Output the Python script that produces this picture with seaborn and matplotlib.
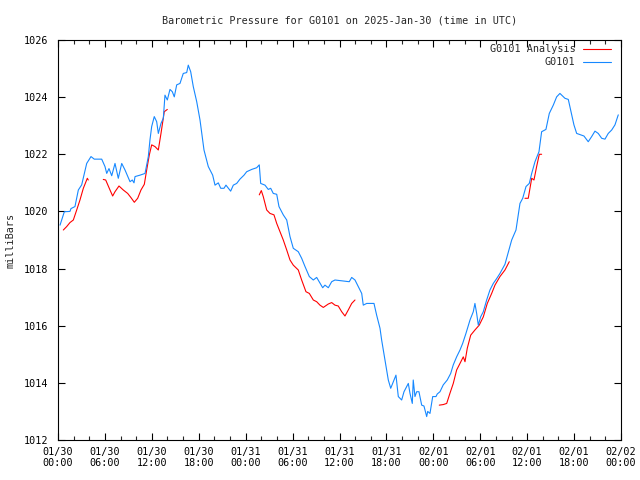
import pandas as pd
import matplotlib
matplotlib.use("Agg")
import matplotlib.pyplot as plt
import seaborn as sns

# hours since 2025-01-30 00:00 UTC, pressure in millibars
blue_hours = [0.26, 0.81, 1.53, 1.66, 2.17, 2.6, 3.03, 3.67, 4.22, 4.64, 5.59, 6.01, 6.23, 6.52,
              6.87, 7.29, 7.71, 8.15, 8.57, 9.21, 9.5, 9.72, 9.85, 10.49, 11.13, 11.55, 11.76,
              11.98, 12.31, 12.62, 12.83, 13.17, 13.47, 13.68, 13.98, 14.32, 14.62, 14.87, 15.18,
              15.6, 16.02, 16.46, 16.66, 16.97, 17.3, 17.74, 18.16, 18.67, 19.22, 19.78, 20.08,
              20.5, 20.81, 21.23, 21.48, 22.08, 22.42, 22.85, 23.27, 23.79, 24.13, 24.77, 25.41,
              25.74, 25.92, 26.47, 26.89, 27.2, 27.53, 27.97, 28.26, 28.81, 29.25, 29.67, 30.09,
              30.73, 31.16, 31.59, 32.14, 32.65, 33.08, 33.85, 34.14, 34.57, 35.0, 35.42, 37.25,
              37.56, 37.98, 38.4, 38.84, 39.04, 39.48, 40.41, 40.75, 41.18, 41.39, 41.82, 42.24,
              42.55, 42.88, 43.22, 43.52, 43.95, 44.25, 44.8, 45.01, 45.31, 45.43, 45.65, 45.87,
              46.16, 46.51, 46.8, 47.15, 47.28, 47.57, 47.92, 48.34, 48.5, 48.85, 49.27, 49.78,
              50.22, 50.55, 50.98, 51.41, 51.75, 52.17, 52.69, 53.11, 53.32, 53.54, 53.75, 54.05,
              54.39, 54.82, 55.24, 55.67, 56.1, 56.52, 57.16, 57.58, 58.02, 58.57, 59.08, 59.43,
              59.85, 60.27, 60.58, 61.0, 61.51, 61.85, 62.4, 62.83, 63.34, 63.77, 64.19, 64.83,
              65.26, 65.69, 65.98, 66.33, 66.97, 67.26, 67.81, 68.25, 68.67, 69.09, 69.53, 69.95,
              70.37, 70.81, 71.23, 71.65]
blue_mb = [1019.52, 1019.99, 1020.0, 1020.1, 1020.17, 1020.75, 1020.93, 1021.68, 1021.92, 1021.83,
           1021.83, 1021.57, 1021.33, 1021.5, 1021.25, 1021.68, 1021.16, 1021.68, 1021.45, 1021.04,
           1021.1, 1021.0, 1021.22, 1021.27, 1021.33, 1021.92, 1022.5, 1022.97, 1023.32, 1023.14,
           1022.73, 1023.08, 1023.26, 1024.07, 1023.9, 1024.27, 1024.19, 1024.01, 1024.43,
           1024.48, 1024.83, 1024.86, 1025.12, 1024.89, 1024.37, 1023.84, 1023.2, 1022.15,
           1021.57, 1021.27, 1020.92, 1021.0, 1020.81, 1020.81, 1020.92, 1020.71, 1020.92,
           1020.98, 1021.13, 1021.27, 1021.39, 1021.47, 1021.53, 1021.63, 1020.98, 1020.92,
           1020.77, 1020.81, 1020.63, 1020.6, 1020.17, 1019.88, 1019.7, 1019.12, 1018.71,
           1018.59, 1018.36, 1018.07, 1017.72, 1017.6, 1017.69, 1017.33, 1017.42, 1017.33,
           1017.54, 1017.6, 1017.54, 1017.69, 1017.6, 1017.37, 1017.13, 1016.72, 1016.78,
           1016.78, 1016.37, 1015.91, 1015.5, 1014.8, 1014.1, 1013.81, 1014.04, 1014.27, 1013.52,
           1013.4, 1013.69, 1013.98, 1013.64, 1013.28, 1014.1, 1013.52, 1013.69, 1013.69,
           1013.22, 1013.19, 1012.82, 1013.0, 1012.93, 1013.52, 1013.52, 1013.61, 1013.69,
           1013.93, 1014.1, 1014.33, 1014.63, 1014.91, 1015.15, 1015.38, 1015.73, 1016.2,
           1016.49, 1016.78, 1016.43, 1016.02, 1016.31, 1016.49, 1016.9, 1017.25, 1017.48,
           1017.65, 1017.83, 1018.15, 1018.56, 1019.0, 1019.35, 1020.28, 1020.46, 1020.87,
           1020.98, 1021.33, 1021.74, 1022.09, 1022.79, 1022.87, 1023.43, 1023.72, 1024.01,
           1024.13, 1023.96, 1023.92, 1023.38, 1023.03, 1022.73, 1022.67, 1022.64, 1022.44,
           1022.62, 1022.81, 1022.73, 1022.56, 1022.53, 1022.73, 1022.85, 1023.03, 1023.38]

# analysis series comes in separate pieces
red_hours_1 = [0.68, 1.11, 1.53, 1.96, 2.39, 2.81, 3.24, 3.75, 3.87]
red_mb_1 = [1019.35, 1019.47, 1019.61, 1019.7, 1020.05, 1020.4, 1020.81, 1021.16, 1021.1]
red_hours_2 = [5.79, 6.1, 6.65, 6.99, 7.29, 7.8, 8.35, 8.91, 9.34, 9.76, 10.19, 10.61, 11.04,
               11.34, 11.68, 11.98, 12.4, 12.83, 13.17, 13.59, 13.98]
red_mb_2 = [1021.12, 1021.1, 1020.75, 1020.54, 1020.69, 1020.89, 1020.75, 1020.63, 1020.48,
            1020.32, 1020.46, 1020.75, 1020.95, 1021.45, 1021.98, 1022.33, 1022.27, 1022.15,
            1022.73, 1023.49, 1023.57]
red_hours_3 = [25.74, 26.0, 26.25, 26.69, 27.11, 27.62, 27.97, 28.39, 28.81, 29.25, 29.67, 30.09,
               30.73, 31.16, 31.71, 32.14, 32.65, 33.08, 33.5, 33.93, 34.57, 35.0, 35.42, 35.84,
               36.28, 36.7, 37.12, 37.56, 37.98]
red_mb_3 = [1020.58, 1020.73, 1020.52, 1020.05, 1019.93, 1019.88, 1019.58, 1019.29, 1019.0,
            1018.65, 1018.3, 1018.12, 1017.95, 1017.6, 1017.19, 1017.13, 1016.9, 1016.84,
            1016.72, 1016.64, 1016.76, 1016.81, 1016.72, 1016.69, 1016.49, 1016.34, 1016.55,
            1016.78, 1016.9]
red_hours_4 = [48.76, 49.27, 49.71, 50.13, 50.55, 50.98, 51.41, 51.83, 52.05, 52.34, 52.78, 53.32,
               53.87, 54.39, 54.9, 55.46, 55.88, 56.52, 57.16, 57.71]
red_mb_4 = [1013.22, 1013.24, 1013.28, 1013.64, 1013.98, 1014.45, 1014.68, 1014.91, 1014.74,
            1015.21, 1015.67, 1015.85, 1016.02, 1016.31, 1016.78, 1017.13, 1017.42, 1017.72,
            1017.95, 1018.24]
red_hours_5 = [59.72, 60.14, 60.58, 60.87, 61.21, 61.55, 61.85]
red_mb_5 = [1020.46, 1020.46, 1021.16, 1021.1, 1021.57, 1022.0, 1022.0]

tick_labels = ["01/30\n00:00", "01/30\n06:00", "01/30\n12:00", "01/30\n18:00",
               "01/31\n00:00", "01/31\n06:00", "01/31\n12:00", "01/31\n18:00",
               "02/01\n00:00", "02/01\n06:00", "02/01\n12:00", "02/01\n18:00",
               "02/02\n00:00"]

red_parts = [(red_hours_1, red_mb_1), (red_hours_2, red_mb_2), (red_hours_3, red_mb_3),
             (red_hours_4, red_mb_4), (red_hours_5, red_mb_5)]
red = pd.concat([pd.DataFrame({"hour": h, "mb": m, "seg": i}) for i, (h, m) in enumerate(red_parts)])
red["series"] = "G0101 Analysis"
blue = pd.DataFrame({"hour": blue_hours, "mb": blue_mb, "seg": 0, "series": "G0101"})
df = pd.concat([red, blue], ignore_index=True)

sns.set_style("white")
plt.rcParams["font.family"] = ["DejaVu Sans Mono"]
plt.rcParams["font.size"] = 7.3

fig = plt.figure(figsize=(6.4, 4.8), dpi=100)
ax = fig.add_axes([58 / 640, 40 / 480, 563 / 640, 400 / 480])

sns.lineplot(data=df, x="hour", y="mb", hue="series", units="seg", estimator=None,
             palette={"G0101 Analysis": "#ff0000", "G0101": "#1688ff"},
             linewidth=0.8, ax=ax, sort=False)

ax.set_xlim(0, 72)
ax.set_ylim(1012, 1026)
ax.set_xticks(range(0, 73, 6))
ax.set_xticklabels(tick_labels, linespacing=1.15)
ax.set_xticks(range(0, 73, 2), minor=True)
ax.set_yticks(range(1012, 1027, 2))
ax.tick_params(axis="both", which="major", direction="in", length=5, width=0.8,
               top=True, right=True, bottom=True, left=True, pad=5, colors="black")
ax.tick_params(axis="x", which="minor", direction="in", length=3, width=0.8,
               top=True, bottom=True)
ax.tick_params(axis="y", which="major", pad=7)
for s in ax.spines.values():
    s.set_color("black")
    s.set_linewidth(0.8)

ax.set_xlabel("")
ax.set_ylabel("milliBars", labelpad=6)
ax.set_title("Barometric Pressure for G0101 on 2025-Jan-30 (time in UTC)", fontsize=7.3, pad=12)

leg = ax.legend(loc="upper right", bbox_to_anchor=(0.986, 0.994), frameon=False,
                markerfirst=False, handlelength=2.8, borderaxespad=0, labelspacing=0.3,
                handletextpad=0.7, borderpad=0.2)
for t in leg.get_texts():
    t.set_ha("right")

fig.savefig("out.png", dpi=100)
